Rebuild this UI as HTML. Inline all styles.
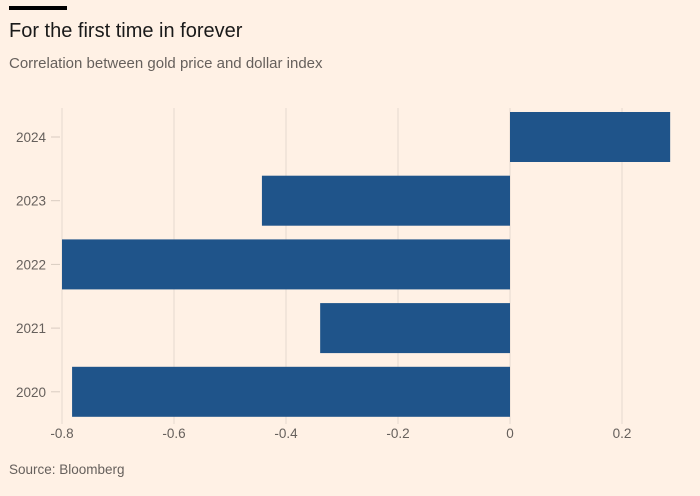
<!DOCTYPE html>
<html><head><meta charset="utf-8"><style>
body{margin:0;background:#fff1e5;font-family:"Liberation Sans",sans-serif}
svg{display:block}
</style></head><body>
<svg width="700" height="496">
<rect width="700" height="496" fill="#fff1e5"/>
<rect x="9" y="6" width="58" height="4" fill="#000"/>
<text x="9" y="37" font-size="20" fill="#1a1a1a">For the first time in forever</text>
<text x="9" y="68" font-size="15" fill="#66605c">Correlation between gold price and dollar index</text>
<g id="grid"></g><g id="bars"></g><g id="axes"></g>
<text x="9" y="474" font-size="13.5" fill="#66605c">Source: Bloomberg</text>
</svg>
<script>
const categories=["2024","2023","2022","2021","2020"];
const values=[0.286,-0.443,-0.8,-0.339,-0.782];
const ticks=[-0.8,-0.6,-0.4,-0.2,0,0.2];
const tickLabels=["-0.8","-0.6","-0.4","-0.2","0","0.2"];
const NS="http://www.w3.org/2000/svg";
const x=v=>510+v*560;
const y0=107,band=63.7;
const y=i=>y0+i*band;
function mk(t,a,p){const e=document.createElementNS(NS,t);for(const k in a)e.setAttribute(k,a[k]);p.appendChild(e);return e;}
const g=document.getElementById('grid'),b=document.getElementById('bars'),ax=document.getElementById('axes');
ticks.forEach((t,i)=>{
 const l=mk('line',{x1:x(t),x2:x(t),y1:108,y2:424,stroke:'#e6d9ce','stroke-width':1},g);
 
 
 const tx=mk('text',{x:x(t),y:438,'font-size':13.5,fill:'#66605c','text-anchor':'middle'},ax);
 tx.textContent=tickLabels[i];
 
 
});
categories.forEach((c,i)=>{
 const v=values[i];
 const r=mk('rect',{x:Math.min(x(0),x(v)),y:y(i)+5,width:Math.abs(x(v)-x(0)),height:50,fill:'#1f548a'},b);
 
 
 const tk=mk('line',{x1:51,x2:60,y1:y(i)+30,y2:y(i)+30,stroke:'#d9ccc1'},ax);
 
 
 const tx=mk('text',{x:46,y:y(i)+35,'font-size':13.5,fill:'#66605c','text-anchor':'end'},ax);
 tx.textContent=c;
 
 
});
</script>
</body></html>
